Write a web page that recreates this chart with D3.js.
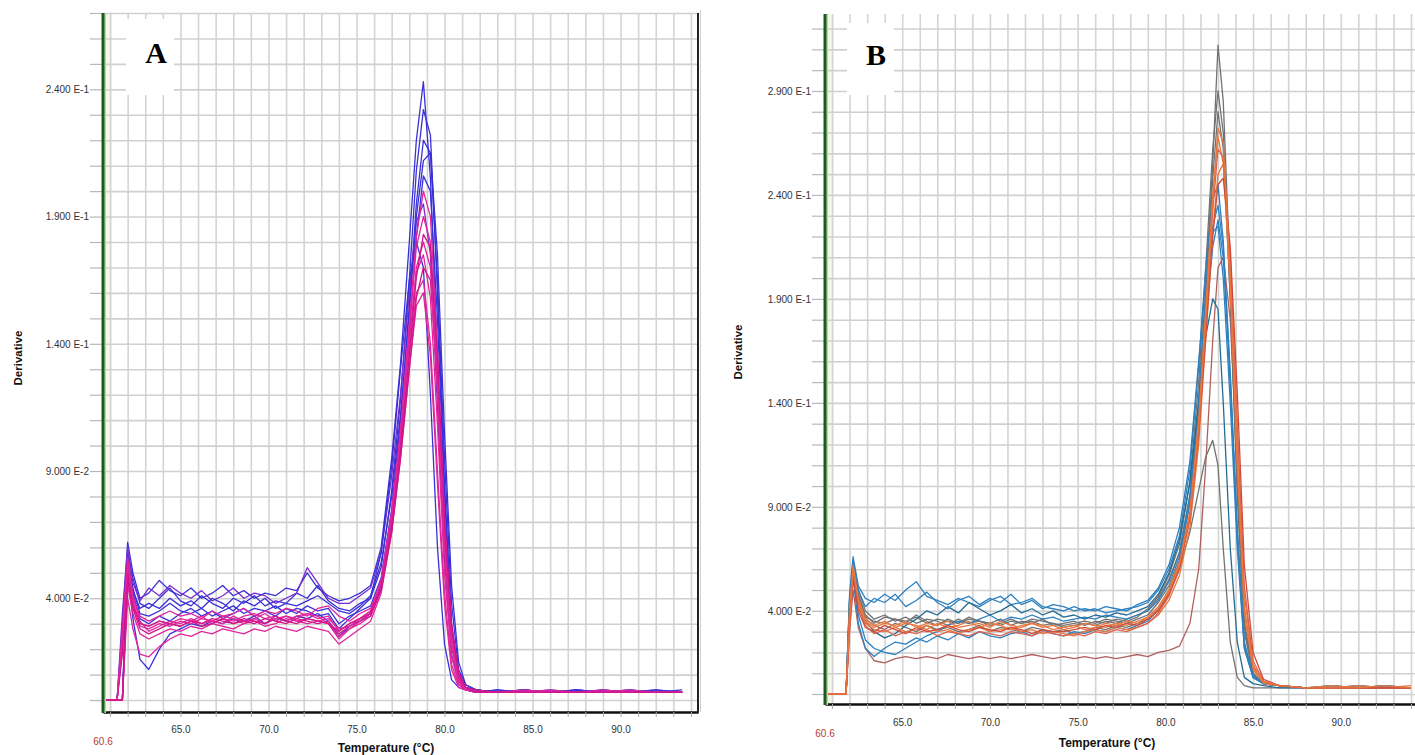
<!DOCTYPE html>
<html>
<head>
<meta charset="utf-8">
<script src="https://cdn.jsdelivr.net/npm/d3@7"></script>
<style>
  body { margin: 0; background: #fff; }
  svg { display: block; font-family: Arial, "Liberation Sans", sans-serif; }
</style>
</head>
<body>
<div id="chart"></div>
<script>
// Melt curve data, derivative values x 1000 (e.g. 240 = 2.400 E-1)
const startTemp = 60.6;
const endTemp = 94.4;
const xTickLabels = [65, 70, 75, 80, 85, 90];
const yTicksA = [40, 90, 140, 190, 240];
const yTicksB = [40, 90, 140, 190, 240, 290];

// Panel A: temperatures sampled, one row per well
const tempsA = [60.6, 61.4, 61.7, 62.0, 62.3, 62.7, 63.2, 63.8, 64.4, 65.0,
    65.6, 66.2, 66.8, 67.4, 68.0, 68.6, 69.2, 69.8, 70.4, 71.0,
    71.6, 72.2, 72.8, 73.4, 74.0, 74.6, 75.2, 75.8, 76.4, 77.0,
    77.5, 78.0, 78.4, 78.8, 79.2, 79.6, 80.0, 80.4, 80.8, 81.2,
    81.8, 83.0, 84.5, 86.0, 87.5, 89.0, 90.5, 92.0, 93.5];

const groupsA = ['blue', 'blue', 'blue', 'blue', 'violet', 'blue', 'blue',
    'magenta', 'magenta', 'magenta', 'magenta', 'magenta', 'pink', 'magenta', 'pink'];

const curvesA = [
    [0,0,30,62,50,40,42,47,43,41, 44,40,42,45,41,43,40,42,41,44, 43,50,44,41,39,40,42,45,60,95, 132,180,220,243,205,135,65,22,8,5, 4,3,4,3,4,3,4,3,3],
    [0,0,0,58,48,38,36,40,44,39, 37,41,38,36,40,38,41,37,39,38, 42,40,45,39,36,35,38,40,52,82, 118,165,208,232,222,160,85,30,10,5, 3,4,3,3,4,3,3,4,3],
    [0,0,25,55,44,34,33,35,38,35, 34,36,33,35,37,34,36,35,33,36, 34,37,35,36,30,33,35,37,48,75, 110,155,195,220,215,165,95,38,12,6, 4,3,3,4,3,3,4,3,3],
    [0,0,0,50,32,16,12,20,26,28, 30,29,31,30,32,31,33,30,32,31, 33,32,34,31,25,29,31,34,45,70, 102,145,182,206,200,150,80,28,9,5, 3,4,3,3,4,3,3,3,3],
    [0,0,34,60,46,39,44,41,45,42, 40,43,39,41,44,40,42,41,38,40, 42,52,46,40,38,38,41,44,58,88, 120,160,188,195,175,115,55,18,7,4, 4,3,4,3,3,4,3,3,3],
    [0,0,0,56,42,32,30,33,31,34, 36,33,35,32,34,36,33,35,37,34, 36,35,33,34,28,32,36,40,58,92, 130,165,180,170,120,60,22,8,5,4, 3,3,4,3,3,3,3,4,3],
    [0,0,20,54,43,36,38,36,40,37, 39,36,40,38,35,39,37,40,36,38, 37,39,41,38,35,34,37,41,54,80, 112,152,190,212,215,175,105,45,15,6, 4,3,4,3,3,4,3,3,4],
    [0,0,0,45,34,26,24,26,28,27, 29,28,30,29,28,30,31,29,30,32, 31,30,31,30,25,28,30,33,44,68, 98,135,160,165,140,90,42,14,6,4, 3,3,3,3,3,3,3,3,3],
    [0,0,22,52,38,30,29,31,30,32, 31,33,30,32,31,33,34,32,33,31, 33,34,32,33,27,30,32,35,46,72, 104,142,168,175,158,108,50,17,7,4, 3,3,3,4,3,3,3,3,3],
    [0,0,0,48,40,33,31,33,35,33, 34,32,35,33,34,36,33,35,34,36, 35,33,36,37,33,31,34,36,46,72, 104,145,178,190,180,128,62,22,8,5, 3,3,4,3,3,3,4,3,3],
    [0,0,28,56,41,31,27,29,31,30, 32,30,31,33,32,30,32,34,31,33, 32,34,33,30,24,28,31,34,47,74, 106,148,182,200,190,138,70,25,9,5, 3,3,3,3,3,4,3,3,3],
    [0,0,0,40,28,18,17,21,24,26, 25,27,26,28,27,26,28,27,29,28, 27,29,28,27,22,25,28,31,42,66, 95,130,155,160,135,85,38,12,5,4, 3,3,3,3,3,3,3,3,3],
    [0,0,18,50,36,28,26,28,30,29, 31,29,30,32,30,31,30,32,31,30, 32,31,30,31,26,29,31,33,43,66, 95,130,158,170,165,125,68,28,10,5, 4,3,3,3,3,3,3,3,3],
    [0,0,24,54,39,29,28,30,29,31, 30,32,31,30,33,31,32,30,32,33, 31,32,31,32,28,29,32,35,47,73, 103,140,170,180,170,122,60,21,8,4, 3,3,3,3,3,3,3,3,3],
    [0,0,0,47,37,30,29,31,30,29, 31,30,32,31,30,32,31,30,33,31, 30,32,31,30,27,30,32,34,44,68, 98,136,166,183,178,135,72,30,11,5, 3,3,3,3,3,3,3,3,3]
];

// Panel B
const tempsB = [60.6, 61.8, 62.0, 62.2, 62.5, 62.9, 63.4, 64.0, 64.6, 65.2,
    65.8, 66.4, 67.0, 67.6, 68.2, 68.8, 69.4, 70.0, 70.6, 71.2,
    71.8, 72.4, 73.0, 73.6, 74.2, 74.8, 75.4, 76.0, 76.6, 77.2,
    77.8, 78.4, 79.0, 79.6, 80.2, 80.8, 81.4, 81.9, 82.3, 82.7,
    83.0, 83.3, 83.7, 84.1, 84.5, 85.0, 85.6, 86.5, 88.0, 89.5,
    91.0, 92.5, 94.0];

const groupsB = ['brown', 'gray', 'gray', 'gray', 'gray',
    'blue', 'blue', 'teal', 'blue', 'blue',
    'orange', 'orange', 'salmon', 'red', 'orange'];

const curvesB = [
    [0,0,30,50,32,22,16,15,17,18, 17,18,17,19,18,17,18,17,18,17, 18,19,18,17,18,17,18,17,18,17, 18,19,18,20,21,23,34,60,110,170, 205,210,180,110,40,12,5,4,3,3, 3,3,3],
    [0,0,45,64,50,40,36,38,35,37, 34,36,35,33,36,34,35,33,34,36, 34,35,33,34,32,33,34,33,35,34, 36,38,40,46,55,68,95,140,195,255, 312,285,200,105,35,10,5,4,3,4, 3,4,3],
    [0,0,40,60,48,38,34,37,36,34, 38,35,33,36,34,37,35,34,36,33, 35,34,36,33,34,35,33,35,34,36, 35,37,41,47,57,72,102,150,205,262, 290,270,190,95,30,9,5,4,3,3, 4,3,3],
    [0,0,35,55,45,36,33,31,34,32, 30,33,31,32,30,31,33,30,32,31, 30,32,31,30,31,29,30,32,31,33, 32,34,36,40,48,60,78,98,114,122, 110,70,25,8,4,3,3,3,3,3, 3,3,3],
    [0,0,40,62,47,37,35,34,36,35, 37,34,36,35,34,36,35,34,33,35, 34,36,35,34,33,34,35,34,36,35, 34,36,38,44,52,66,92,138,192,248, 280,262,190,100,32,10,5,4,3,3, 3,3,3],
    [0,0,48,66,52,46,44,48,45,50, 54,47,45,43,46,44,42,45,47,43, 44,46,42,41,40,42,40,41,39,40, 41,42,44,50,60,76,108,158,205,238, 245,218,150,75,22,8,5,4,3,4, 3,4,3],
    [0,0,40,58,38,26,22,20,19,22, 25,28,30,33,35,34,36,38,35,37, 36,38,36,37,35,36,37,36,38,37, 36,38,40,45,54,68,96,142,190,225, 235,215,155,80,25,9,5,4,3,3, 3,4,3],
    [0,0,44,62,45,35,30,27,29,33, 36,40,38,42,39,44,41,38,40,43, 39,41,38,40,37,38,36,38,37,39, 38,40,42,48,58,74,102,140,172,190, 185,140,70,25,8,5,4,3,3,3, 3,3,3],
    [0,0,46,63,50,42,46,44,48,42, 45,49,44,41,45,47,43,46,44,48, 43,45,41,43,42,40,41,40,42,41, 40,43,45,51,62,80,112,160,200,222, 225,200,140,70,22,8,5,4,3,3, 4,3,3],
    [0,0,38,56,34,22,18,22,25,24, 27,25,28,26,29,27,30,28,27,29, 30,28,31,29,28,30,29,31,30,32, 31,33,35,41,50,64,92,135,180,215, 228,210,150,78,24,8,5,4,3,3, 3,3,3],
    [0,0,38,62,46,36,33,35,32,34, 33,31,34,32,33,35,32,34,33,31, 33,34,32,33,31,32,34,33,32,34, 33,35,37,42,50,63,88,132,185,240, 268,255,195,110,40,12,5,4,3,4, 3,3,4],
    [0,0,42,60,44,34,31,30,32,30, 31,33,30,31,29,31,32,30,31,32, 30,31,29,30,29,28,30,31,30,32, 31,32,34,38,45,57,80,120,170,222, 250,255,205,125,48,14,6,4,3,3, 4,3,3],
    [0,0,30,58,42,33,29,31,28,30, 29,31,28,30,29,28,30,29,28,30, 29,28,30,29,28,29,28,30,29,31, 30,32,34,39,47,60,84,126,178,232, 262,258,210,130,52,16,6,4,3,3, 3,3,3],
    [0,0,36,56,40,32,30,33,31,29, 32,30,31,33,31,30,32,31,30,32, 31,29,31,30,30,31,32,31,33,32, 34,33,36,40,48,61,85,125,172,220, 245,248,215,145,62,20,7,4,3,3, 3,3,3],
    [0,0,34,60,45,35,32,34,33,35, 32,34,33,35,32,33,34,32,35,33, 32,34,33,31,32,33,31,32,34,33, 35,34,37,41,49,62,86,128,180,236, 272,265,200,115,42,13,6,4,3,3, 3,4,3]
];

const lineColor = d3.scaleOrdinal()
    .domain(['blue', 'violet', 'magenta', 'pink', 'gray', 'teal', 'orange', 'salmon', 'red', 'brown'])
    .range(['#3a30d8', '#7a2ccc', '#e0259c', '#d0168a', '#727272', '#236c93', '#e9773d', '#dc634f', '#cf4c3a', '#b25f5f']);
const blueOverride = '#2f80bf';

function sciLabel(v) {
    const val = v / 1000;
    const e = Math.floor(Math.log10(val) + 1e-9);
    const m = val / Math.pow(10, e);
    return `${m.toFixed(3)} E${e}`;
}

const width = 1415;
const height = 755;

const svg = d3.select('#chart')
    .append('svg')
    .attr('width', width)
    .attr('height', height);

const panels = [
    { id: 'A', temps: tempsA, curves: curvesA, groups: groupsA, yTicks: yTicksA,
      left: 103, right: 698, top: 13, bottom: 712, yDomain: [-4.7, 270], yGridMax: 270,
      box: [126, 19, 48, 76], letterX: 156, letterY: 63,
      yLabelX: 22, yLabelY: 358, titleX: 386, titleY: 752, tickPad: 9, startLabelY: 745,
      rightBorder: true, blueColor: null },
    { id: 'B', temps: tempsB, curves: curvesB, groups: groupsB, yTicks: yTicksB,
      left: 825, right: 1418, top: 14, bottom: 704, yDomain: [-4.8, 327], yGridMax: 320,
      box: [847, 23, 47, 72], letterX: 876, letterY: 65,
      yLabelX: 742, yLabelY: 352, titleX: 1107, titleY: 747, tickPad: 10, startLabelY: 737,
      rightBorder: false, blueColor: blueOverride }
];

// thin border at the left of panel B image
svg.append('line')
    .attr('x1', 700.5).attr('x2', 700.5)
    .attr('y1', 10).attr('y2', 712)
    .attr('stroke', '#cfcfcf')
    .attr('stroke-width', 1);

panels.forEach(p => drawPanel(p));

function drawPanel(p) {
    const g = svg.append('g');
    const plotH = p.bottom - p.top;

    const x = d3.scaleLinear().domain([startTemp, endTemp]).range([p.left, p.right]);
    const y = d3.scaleLinear().domain(p.yDomain).range([p.bottom, p.top]);

    // faint stripe next to the axis
    g.append('rect')
        .attr('x', p.left)
        .attr('y', p.top)
        .attr('width', 9)
        .attr('height', plotH)
        .attr('fill', '#f5f9ec');

    // vertical grid, one per degree
    g.append('g')
        .attr('transform', `translate(0,${p.bottom})`)
        .call(d3.axisBottom(x).tickValues(d3.range(61, 95)).tickSize(-plotH).tickFormat(''))
        .call(s => s.select('.domain').remove())
        .selectAll('line')
        .attr('stroke', '#d4d4d4')
        .attr('stroke-width', 1.6);

    // horizontal grid every 1.0 E-2
    g.append('g')
        .attr('transform', `translate(${p.left},0)`)
        .call(d3.axisRight(y).tickValues(d3.range(0, p.yGridMax + 1, 10)).tickSize(p.right - p.left).tickFormat(''))
        .call(s => s.select('.domain').remove())
        .selectAll('line')
        .attr('stroke', '#d0d0d0')
        .attr('stroke-width', 1.6);

    // letter box
    g.append('rect')
        .attr('x', p.box[0]).attr('y', p.box[1])
        .attr('width', p.box[2]).attr('height', p.box[3])
        .attr('fill', '#fff');
    g.append('text')
        .attr('x', p.letterX)
        .attr('y', p.letterY)
        .attr('text-anchor', 'middle')
        .style('font-family', '"Liberation Serif", "Times New Roman", serif')
        .style('font-weight', 'bold')
        .style('font-size', '30px')
        .style('fill', '#000')
        .text(p.id);

    // clip
    g.append('clipPath')
        .attr('id', `clip-${p.id}`)
        .append('rect')
        .attr('x', p.left).attr('y', p.top - 2)
        .attr('width', p.right - p.left).attr('height', plotH + 2);

    const line = d3.line()
        .x((d, i) => x(p.temps[i]))
        .y(d => y(d));

    g.append('g')
        .attr('clip-path', `url(#clip-${p.id})`)
        .selectAll('path')
        .data(p.curves)
        .enter()
        .append('path')
        .attr('d', line)
        .attr('fill', 'none')
        .attr('stroke', (d, i) => (p.blueColor && p.groups[i] === 'blue') ? p.blueColor : lineColor(p.groups[i]))
        .attr('stroke-width', 1.3)
        .attr('stroke-linejoin', 'round');

    // bottom axis
    const xAxis = g.append('g')
        .attr('transform', `translate(0,${p.bottom})`)
        .call(d3.axisBottom(x)
            .tickValues(d3.range(61, 95))
            .tickSize(5)
            .tickSizeOuter(0)
            .tickPadding(p.tickPad)
            .tickFormat(d => xTickLabels.includes(d) ? d.toFixed(1) : ''));
    xAxis.select('.domain').attr('stroke', '#111').attr('stroke-width', 2.5);
    xAxis.selectAll('.tick line').attr('stroke', '#aaa');
    xAxis.selectAll('text').style('font-size', '10px').style('fill', '#333').style('font-family', 'Arial, sans-serif');

    // left axis, green
    const yAxis = g.append('g')
        .attr('transform', `translate(${p.left},0)`)
        .call(d3.axisLeft(y)
            .tickValues(d3.range(0, p.yGridMax + 1, 10))
            .tickSize(13)
            .tickSizeOuter(0)
            .tickPadding(1)
            .tickFormat(d => p.yTicks.includes(d) ? sciLabel(d) : ''));
    yAxis.select('.domain').remove();
    yAxis.selectAll('.tick line').attr('stroke', '#b8b8b8').attr('stroke-width', 1.2);
    yAxis.selectAll('text').style('font-size', '10px').style('fill', '#333').style('font-family', 'Arial, sans-serif');

    g.append('line')
        .attr('x1', p.left + 2).attr('x2', p.left + 2)
        .attr('y1', p.top).attr('y2', p.bottom + 1)
        .attr('stroke', '#aee09a')
        .attr('stroke-width', 2);
    g.append('line')
        .attr('x1', p.left).attr('x2', p.left)
        .attr('y1', p.top).attr('y2', p.bottom + 1)
        .attr('stroke', '#1d5a22')
        .attr('stroke-width', 3);

    if (p.rightBorder) {
        g.append('line')
            .attr('x1', p.right).attr('x2', p.right)
            .attr('y1', p.top).attr('y2', p.bottom + 1)
            .attr('stroke', '#222')
            .attr('stroke-width', 2);
    }

    // start temperature in red
    g.append('text')
        .attr('x', x(startTemp))
        .attr('y', p.startLabelY)
        .attr('text-anchor', 'middle')
        .style('font-size', '10px')
        .style('fill', '#c0392b')
        .text(startTemp.toFixed(1));

    // axis titles
    g.append('text')
        .attr('x', p.titleX)
        .attr('y', p.titleY)
        .attr('text-anchor', 'middle')
        .style('font-size', '12px')
        .style('font-weight', 'bold')
        .style('fill', '#111')
        .text('Temperature (°C)');

    g.append('text')
        .attr('transform', `translate(${p.yLabelX},${p.yLabelY}) rotate(-90)`)
        .attr('text-anchor', 'middle')
        .style('font-size', '11.5px')
        .style('font-weight', 'bold')
        .style('fill', '#111')
        .text('Derivative');
}
</script>
</body>
</html>
